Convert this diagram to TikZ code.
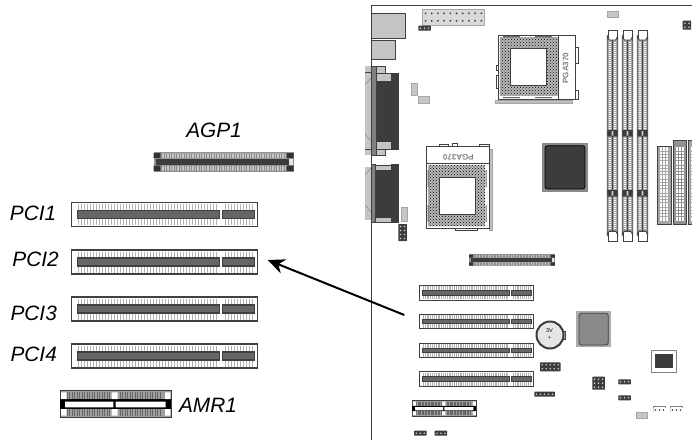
\documentclass[tikz,border=0pt]{standalone}
\usepackage{fontspec}
\setmainfont{Liberation Sans}
\usetikzlibrary{arrows.meta,patterns}

\definecolor{boardline}{HTML}{404040}
\definecolor{boardfill}{HTML}{C4C4C4}
\definecolor{slotbar}{HTML}{666666}
\definecolor{chipdark}{HTML}{3C3C3C}
\definecolor{chipgray}{HTML}{8A8A8A}

\tikzset{
  slotlabel/.style={inner sep=0pt, font=\fontsize{20.8}{24}\selectfont\itshape},
  part/.style={draw=boardline, fill=boardfill, line width=0.8pt},
  darkpart/.style={draw=chipdark, fill=chipdark, line width=0.5pt},
  lightpart/.style={draw=gray!70, fill=gray!45, line width=0.5pt},
  whitepart/.style={draw=boardline, fill=white, line width=0.8pt}
}

% PCI slot: x, y of the top left corner, scale
\newcommand{\pcislot}[3]{%
  \begin{scope}[shift={(#1,#2)}, scale=#3]
    \draw[boardline, fill=white, line width=#3*1.4pt] (0,0) rectangle (186,24);
    \foreach \px in {7,10,...,145,154,157,...,181} {
      \draw[gray!60, line width=#3*1.5pt] (\px,1.5) -- (\px,7.5);
      \draw[gray!60, line width=#3*1.5pt] (\px,16.5) -- (\px,22.5);
    }
    \draw[boardline, fill=slotbar, line width=#3*1.2pt] (6,8) rectangle (148,16);
    \draw[boardline, fill=slotbar, line width=#3*1.2pt] (151,8) rectangle (182.6,16);
  \end{scope}}

% AGP slot: x, y, scale
\newcommand{\agpslot}[3]{%
  \begin{scope}[shift={(#1,#2)}, scale=#3]
    \fill[gray!85] (0,0) rectangle (140,20);
    \fill[gray!45] (3,1.7) rectangle (137,6) (3,14) rectangle (137,18.5);
    \foreach \px in {8,10.5,...,134} {
      \draw[gray!90, line width=#3*0.9pt] (\px,1.7) -- (\px,6);
      \draw[gray!90, line width=#3*0.9pt] (\px,14) -- (\px,18.5);
    }
    \fill[chipdark] (2.7,7) rectangle (135,12.7);
    \fill[white!80!gray] (135,6.7) rectangle (139,12.7);
    \fill[black!80] (0,1) rectangle (7,6) (0,13.5) rectangle (7,19)
      (133,1) rectangle (140,6) (133,13.5) rectangle (140,19);
  \end{scope}}

% AMR slot: x, y, scale
\newcommand{\amrslot}[3]{%
  \begin{scope}[shift={(#1,#2)}, scale=#3]
    \draw[boardline, fill=gray!75, line width=#3*1pt] (0,0) rectangle (111,26.7);
    \foreach \px in {7,9.5,...,50,60,62.5,...,102} {
      \draw[black!60, line width=#3*0.9pt] (\px,1.7) -- (\px,8.3);
      \draw[black!60, line width=#3*0.9pt] (\px,18.4) -- (\px,25);
    }
    \fill[black] (0,8.3) rectangle (111,18.4);
    \fill[white] (5,11) rectangle (53.3,16.7) (55.7,11) rectangle (105.7,16.7);
    \fill[white] (1,1.7) rectangle (6.5,8.3) (1,18.4) rectangle (6.5,25)
      (51.5,1.7) rectangle (57.5,8.3) (51.5,18.4) rectangle (57.5,25)
      (105,1.7) rectangle (110.3,8.3) (105,18.4) rectangle (110.3,25);
  \end{scope}}

% memory slot: x of the left edge
\newcommand{\dimmslot}[1]{%
  \begin{scope}[shift={(#1,0)}]
    \draw[whitepart] (0.7,30) rectangle (9.7,40);
    \draw[whitepart] (0.7,231) rectangle (9.7,241);
    \draw[draw=boardline, fill=gray!70, line width=0.8pt] (0,36) -- (2,40) -- (8.4,40)
      -- (10.4,36) -- (10.4,235) -- (8.4,231) -- (2,231) -- (0,235) -- cycle;
    \draw[white, line width=2.6pt, dash pattern=on 1pt off 1pt] (2.6,42) -- (2.6,229);
    \draw[white, line width=2.6pt, dash pattern=on 1pt off 1pt] (7.8,42) -- (7.8,229);
    \fill[boardline] (4.5,40) rectangle (5.9,231);
    \fill[chipdark] (0,130) rectangle (10.4,136.5) (0,190) rectangle (10.4,196.7);
    \fill[gray!40] (4.3,131) rectangle (6.1,135.5) (4.3,191) rectangle (6.1,195.7);
  \end{scope}}

% pin header: x, y, columns, rows, body colour, pin colour
\newcommand{\pinheader}[6]{%
  \fill[#5, rounded corners=0.5pt] (#1,#2) rectangle ({#1+4*#3+0.5},{#2+4*#4+1});
  \foreach \col in {1,...,#3}
    \foreach \row in {1,...,#4}
      \fill[#6] ({#1+4*\col-1.75},{#2+4*\row-1.5}) circle (0.9);}

\begin{document}
\begin{tikzpicture}[x=1pt, y=-1pt]
  \useasboundingbox (0,0) rectangle (692,440);

  % enlarged slots on the left
  \agpslot{153.5}{152}{1}
  \pcislot{71.7}{202.7}{1}
  \pcislot{71.7}{250}{1}
  \pcislot{71.7}{297}{1}
  \pcislot{71.7}{344}{1}
  \amrslot{60}{390.7}{1}

  \node[slotlabel] (agplabel) at (214,130) {AGP1};
  \node[slotlabel] (pcionelabel) at (33,213) {PCI1};
  \node[slotlabel] (pcitwolabel) at (35.5,259) {PCI2};
  \node[slotlabel] (pcithreelabel) at (33.7,313) {PCI3};
  \node[slotlabel] (pcifourlabel) at (33.7,354) {PCI4};
  \node[slotlabel] (amrlabel) at (208,405.5) {AMR1};

  % board outline
  \draw[boardline, line width=1pt] (371,440) -- (371,5.3) -- (692,5.3);

  % back panel
  \draw[part] (371,13.3) rectangle (405.3,38);
  \draw[part] (371,40.7) rectangle (395,59.3);
  \fill[boardfill] (365,66) rectangle (371,155);
  \draw[gray] (365,85) -- (371,78) (365,134) -- (371,141);
  \draw[boardline] (365,72) -- (371,72) (365,149) -- (371,149);
  \draw[part] (376.7,66.7) rectangle (385,155);
  \draw[part] (376.7,73.3) rectangle (391.7,149);
  \draw[darkpart] (376.7,81.7) rectangle (391.7,141.7);
  \draw[darkpart] (391.7,73.3) rectangle (398.3,149);
  \draw[boardline, fill=gray, line width=0.8pt] (371,66.7) rectangle (376.7,155);
  \fill[boardfill] (365,167) rectangle (371,220);
  \draw[gray] (365,175) -- (371,168) (365,205) -- (371,212);
  \draw[part] (375.7,165) rectangle (391.7,222.7);
  \draw[darkpart] (375.7,170) rectangle (391.7,217.3);
  \draw[darkpart] (391.7,164.3) rectangle (398.3,222.7);
  \draw[boardline, fill=gray, line width=0.8pt] (371,164.3) rectangle (375.7,222.7);

  % power connector and small headers at the top
  \draw[lightpart, fill=gray!30] (422.3,9.3) rectangle (484.3,25);
  \foreach \col in {0,...,9}
    \foreach \row in {0,1}
      \fill[chipdark] ({425.5+6.2*\col},{13.3+7.5*\row}) circle (1);
  \pinheader{418.3}{25.7}{3}{1}{chipdark}{gray!40}
  \draw[lightpart] (411,83.3) rectangle (417.7,95);
  \draw[lightpart] (418.3,96.7) rectangle (429.7,103.3);
  \draw[lightpart] (401,207.3) rectangle (407.3,221.7);
  \pinheader{398.3}{224}{2}{4}{chipdark}{gray!40}
  \draw[lightpart] (607.3,11) rectangle (618.7,17.7);
  \pinheader{682.7}{20.7}{2}{2}{chipdark}{gray!40}

  % upper processor socket
  \draw[lightpart, fill=gray!50] (495,100) rectangle (572.3,103.7);
  \draw[part, fill=white] (575.7,47) rectangle (578.3,63);
  \draw[part, fill=white] (575.7,90) rectangle (578.3,99);
  \draw[part, fill=white] (496,65) rectangle (498.3,70.7);
  \draw[part, fill=white] (496,75) rectangle (498.3,88.3);
  \draw[whitepart] (498.3,35) rectangle (575.7,99);
  \draw[boardline, line width=0.8pt] (558.3,35) -- (558.3,99);
  \fill[gray!55] (499.8,37.3) rectangle (557.7,95.7);
  \fill[pattern=crosshatch dots, pattern color=black] (499.8,37.3) rectangle (557.7,95.7);
  \draw[whitepart] (510.7,48.3) rectangle (546,85.7);
  \fill[slotbar] (503,36) rectangle (520,37.3) (535,36) rectangle (552,37.3)
    (503,97) rectangle (520,98) (535,97) rectangle (552,98);
  \node[gray, rotate=90, inner sep=0pt, font=\fontsize{8}{9}\selectfont\bfseries] (pgaupper) at (565.5,68) {PGA370};

  % lower processor socket
  \draw[lightpart, fill=gray!50] (489,149.3) rectangle (492.3,230);
  \draw[part, fill=white] (439,144) rectangle (448,147);
  \draw[part, fill=white] (452,143) rectangle (457,147);
  \draw[part, fill=white] (479,144) rectangle (489,147);
  \draw[part, fill=white] (455,227) rectangle (477,230);
  \draw[whitepart] (426.7,146) rectangle (489,228.3);
  \draw[boardline, line width=0.8pt] (426.7,163.3) -- (489,163.3);
  \fill[gray!55] (428.3,165) rectangle (485,226);
  \fill[pattern=crosshatch dots, pattern color=black] (428.3,165) rectangle (485,226);
  \draw[whitepart] (439.3,177.3) rectangle (475,214.3);
  \fill[slotbar] (427.5,170) rectangle (428.5,187) (427.5,205) rectangle (428.5,222)
    (485.5,170) rectangle (486.5,187) (485.5,205) rectangle (486.5,222);
  \node[gray, rotate=180, inner sep=0pt, font=\fontsize{8}{9}\selectfont\bfseries] (pgalower) at (458.3,157.3) {PGA370};

  % large chip
  \fill[chipgray] (541.7,142.7) rectangle (588.3,192.3);
  \draw[black, fill=chipdark, line width=0.8pt, rounded corners=2.5pt] (545,145.7) rectangle (585,189);

  % memory slots
  \dimmslot{607.3}
  \dimmslot{622.3}
  \dimmslot{637.3}

  % drive connectors
  \foreach \idex/\idew/\idey/\idefill in {657.3/14.4/146.7/gray!70, 673.3/13.4/140/gray!85, 688.3/9/140/gray!70} {
    \draw[part, fill=\idefill, line width=1pt] (\idex,\idey) rectangle ({\idex+\idew},224.3);
    \foreach \row in {0,...,26}
      \draw[white, line width=2pt, dash pattern=on 1.8pt off 1.2pt]
        ({\idex+3},{224.3-4-2.8*\row}) -- ({\idex+\idew-3},{224.3-4-2.8*\row});
  }

  % AGP, PCI and AMR slots on the board
  \agpslot{469}{254}{0.614}
  \pcislot{419}{285.3}{0.613}
  \pcislot{419}{314}{0.613}
  \pcislot{419}{343}{0.613}
  \pcislot{419}{371.7}{0.613}
  \amrslot{412.3}{400.7}{0.577}

  % battery
  \draw[part, fill=boardfill] (561,331) rectangle (565.5,339);
  \draw[chipdark, fill=gray!20, line width=2pt] (550,335) circle (13.5);
  \node[inner sep=0pt, font=\fontsize{5.5}{6}\selectfont] (batteryvolt) at (549.5,331) {3V};
  \node[inner sep=0pt, font=\fontsize{5.5}{6}\selectfont] (batteryplus) at (549.5,338) {+};

  % second chip and small chip
  \fill[gray!65] (576.3,311) rectangle (610.7,347.3);
  \draw[boardline, fill=chipgray, line width=0.8pt, rounded corners=2.5pt] (579,313.3) rectangle (608.3,345);
  \draw[whitepart, draw=gray] (651.7,350.7) rectangle (676,372.3);
  \fill[chipdark] (655,354) rectangle (673.3,368.3);

  % small headers at the bottom
  \pinheader{540}{362.3}{5}{2}{chipdark}{gray!40}
  \pinheader{592.3}{376.7}{3}{3}{chipdark}{gray!40}
  \pinheader{618.3}{379.3}{3}{1}{chipdark}{gray!40}
  \pinheader{618.3}{395.3}{3}{1}{chipdark}{gray!40}
  \pinheader{534.3}{391.7}{5}{1}{chipdark}{gray!40}
  \pinheader{414}{430.7}{3}{1}{chipdark}{gray!40}
  \pinheader{434.7}{430.7}{3}{1}{chipdark}{gray!40}
  \draw[whitepart, draw=gray] (653,406.7) rectangle (665.5,411.7);
  \draw[whitepart, draw=gray] (670,406.7) rectangle (682.5,411.7);
  \pinheader{653.3}{407.5}{3}{1}{white}{chipdark}
  \pinheader{670.3}{407.5}{3}{1}{white}{chipdark}
  \draw[lightpart] (636,412) rectangle (647,418.7);

  % arrow from the board to the enlarged slot
  \coordinate (boardslot) at (404.3,315);
  \coordinate (largeslot) at (267.7,260);
  \draw[-{Stealth[length=17pt,width=15pt]}, black, line width=2pt] (boardslot) -- (largeslot);
\end{tikzpicture}
\end{document}
